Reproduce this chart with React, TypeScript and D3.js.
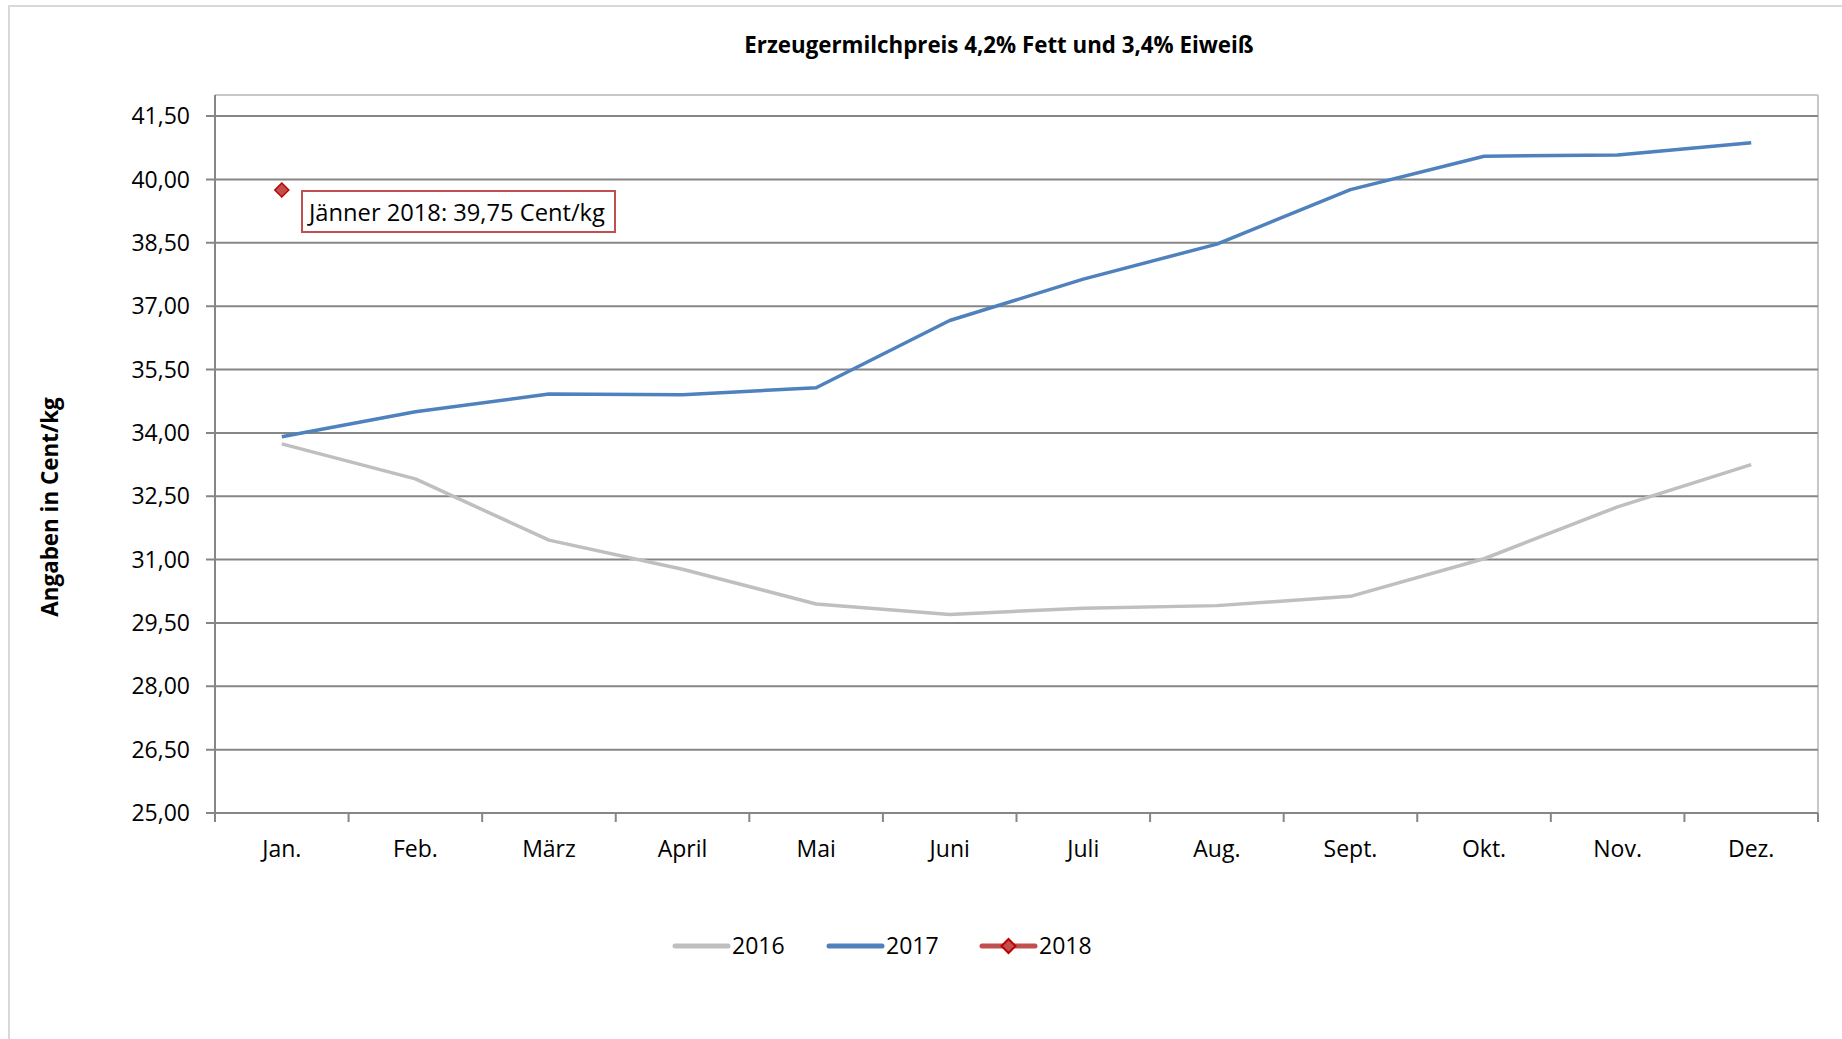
import * as d3 from "d3";

const months = ["Jan.", "Feb.", "März", "April", "Mai", "Juni", "Juli", "Aug.", "Sept.", "Okt.", "Nov.", "Dez."];
const values2016 = [33.74, 32.91, 31.46, 30.77, 29.95, 29.7, 29.85, 29.91, 30.13, 31.02, 32.25, 33.25];
const values2017 = [33.91, 34.5, 34.92, 34.9, 35.07, 36.66, 37.64, 38.47, 39.76, 40.55, 40.58, 40.87];
const values2018 = [39.75];
const yTicks = [25, 26.5, 28, 29.5, 31, 32.5, 34, 35.5, 37, 38.5, 40, 41.5];
const seriesNames = ["2016", "2017", "2018"];

const W = 1842;
const H = 1039;
const plot = { left: 215, right: 1818, top: 95, bottom: 813 };
const font = "'Open Sans', sans-serif";

const fmt = d3.formatLocale({ decimal: ",", thousands: ".", grouping: [3], currency: ["", "€"] }).format(".2f");

export default function App() {
  const x = d3.scaleBand().domain(months).range([plot.left, plot.right]);
  const y = d3.scaleLinear().domain([25, 42]).range([plot.bottom, plot.top]);
  const cx = (m: string) => (x(m) ?? 0) + x.bandwidth() / 2;

  const line = d3
    .line<number>()
    .x((_, i) => cx(months[i]))
    .y((d) => y(d));

  const diamond = (px: number, py: number, r: number) =>
    `M${px},${py - r} L${px + r},${py} L${px},${py + r} L${px - r},${py} Z`;

  const bounds = months.map((m) => x(m) ?? 0).concat([plot.right]);
  const p18x = cx(months[0]);
  const p18y = y(values2018[0]);

  const legendY = 946;
  const legend = [
    { name: seriesNames[0], color: "#bfbfbf", x0: 675 },
    { name: seriesNames[1], color: "#4f81bd", x0: 829 },
    { name: seriesNames[2], color: "#c0504d", x0: 982, marker: true },
  ];

  return (
    <svg width={W} height={H} style={{ position: "absolute", left: 0, top: 0, background: "#fff" }} fontFamily={font}>
      <rect x={9} y={6} width={W + 20} height={H + 20} fill="#fff" stroke="#d9d9d9" strokeWidth={2} />

      <text x={999} y={53} textAnchor="middle" fontSize={22.3} fontWeight="bold" fill="#000">
        Erzeugermilchpreis 4,2% Fett und 3,4% Eiweiß
      </text>

      {/* plot border */}
      <line x1={plot.left} x2={plot.right} y1={plot.top} y2={plot.top} stroke="#c8c8c8" strokeWidth={2} />
      <line x1={plot.right} x2={plot.right} y1={plot.top} y2={plot.bottom} stroke="#c8c8c8" strokeWidth={2} />

      {/* gridlines + y ticks */}
      {yTicks.map((t) => (
        <g key={t}>
          <line x1={plot.left - 9} x2={plot.right} y1={y(t)} y2={y(t)} stroke="#868686" strokeWidth={2} />
          <text x={190} y={y(t)} dy="0.35em" textAnchor="end" fontSize={23} fill="#000">
            {fmt(t)}
          </text>
        </g>
      ))}

      {/* axes */}
      <line x1={plot.left} x2={plot.left} y1={plot.top} y2={plot.bottom} stroke="#868686" strokeWidth={2} />
      <line x1={plot.left} x2={plot.right} y1={plot.bottom} y2={plot.bottom} stroke="#868686" strokeWidth={2} />
      {bounds.map((b, i) => (
        <line key={i} x1={b} x2={b} y1={plot.bottom} y2={plot.bottom + 9} stroke="#868686" strokeWidth={2} />
      ))}
      {months.map((m) => (
        <text key={m} x={cx(m)} y={857} textAnchor="middle" fontSize={23} fill="#000">
          {m}
        </text>
      ))}

      <text
        transform={`translate(50,507) rotate(-90)`}
        textAnchor="middle"
        dy="0.35em"
        fontSize={22.4}
        fontWeight="bold"
        fill="#000"
      >
        Angaben in Cent/kg
      </text>

      {/* series */}
      <path d={line(values2016) ?? ""} fill="none" stroke="#bfbfbf" strokeWidth={3.5} strokeLinejoin="round" />
      <path d={line(values2017) ?? ""} fill="none" stroke="#4f81bd" strokeWidth={3.5} strokeLinejoin="round" />
      <path d={diamond(p18x, p18y, 7)} fill="#c0504d" stroke="#c00000" strokeWidth={1.5} />

      {/* callout */}
      <rect x={302} y={191} width={313} height={41} fill="#fff" stroke="#c0504d" strokeWidth={2} />
      <text x={309} y={221} fontSize={23.7} fill="#000">
        Jänner 2018: {fmt(values2018[0])} Cent/kg
      </text>

      {/* legend */}
      {legend.map((l) => (
        <g key={l.name}>
          <line
            x1={l.x0}
            x2={l.x0 + 53}
            y1={legendY}
            y2={legendY}
            stroke={l.color}
            strokeWidth={5}
            strokeLinecap="round"
          />
          {l.marker && (
            <path d={diamond(l.x0 + 26.5, legendY, 7)} fill="#c0504d" stroke="#c00000" strokeWidth={2} />
          )}
          <text x={l.x0 + 57} y={legendY} dy="0.35em" fontSize={23} fill="#000">
            {l.name}
          </text>
        </g>
      ))}
    </svg>
  );
}
